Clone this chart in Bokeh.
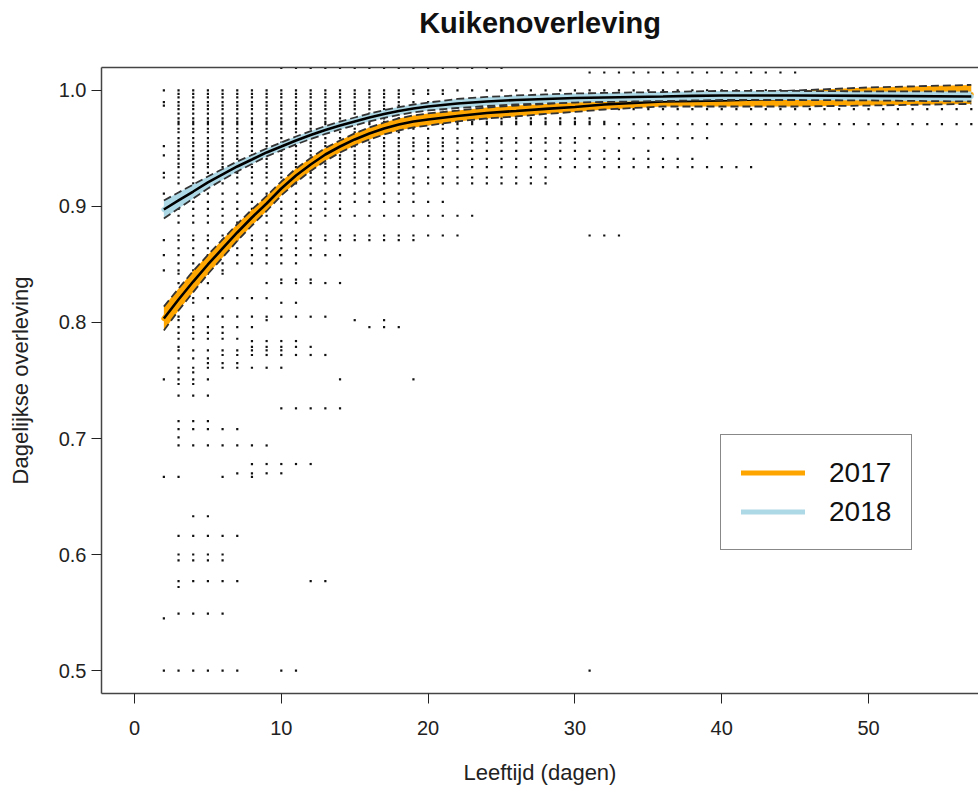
from bokeh.plotting import figure
from bokeh.models import (Range1d, LinearAxis, FixedTicker, Legend, LegendItem,
                          PrintfTickFormatter)
from bokeh.embed import file_html
from bokeh.resources import INLINE

# ---------------- data ----------------
days = [2, 3, 4, 5, 6, 7, 8, 9, 10, 11, 12, 13, 14, 15, 16, 17, 18, 19, 20,
        22, 24, 26, 28, 30, 32, 34, 36, 38, 40, 45, 50, 57]

fit_2017 = [0.8034, 0.8198, 0.8353, 0.8500, 0.8638, 0.8776, 0.8905, 0.9026, 0.9155,
            0.9267, 0.9362, 0.9448, 0.9517, 0.9578, 0.9629, 0.9672, 0.9707, 0.9733,
            0.9750, 0.9780, 0.9806, 0.9823, 0.9841, 0.9858, 0.9879, 0.9892, 0.9905,
            0.9909, 0.9914, 0.9931, 0.9948, 0.9966]
lo_2017 = [0.7931, 0.8103, 0.8262, 0.8418, 0.8560, 0.8703, 0.8836, 0.8961, 0.9095,
           0.9207, 0.9306, 0.9392, 0.9465, 0.9526, 0.9577, 0.9620, 0.9655, 0.9681,
           0.9698, 0.9733, 0.9759, 0.9776, 0.9798, 0.9815, 0.9836, 0.9849, 0.9862,
           0.9862, 0.9862, 0.9862, 0.9870, 0.9884]
hi_2017 = [0.8137, 0.8293, 0.8444, 0.8582, 0.8716, 0.8849, 0.8974, 0.9091, 0.9215,
           0.9327, 0.9418, 0.9504, 0.9569, 0.9630, 0.9681, 0.9724, 0.9759, 0.9785,
           0.9802, 0.9827, 0.9853, 0.9870, 0.9884, 0.9901, 0.9922, 0.9935, 0.9948,
           0.9956, 0.9966, 1.0000, 1.0026, 1.0048]

fit_2018 = [0.8974, 0.9052, 0.9129, 0.9207, 0.9276, 0.9345, 0.9405, 0.9466, 0.9517,
            0.9569, 0.9616, 0.9659, 0.9698, 0.9733, 0.9767, 0.9797, 0.9823, 0.9845,
            0.9862, 0.9888, 0.9905, 0.9918, 0.9927, 0.9935, 0.9940, 0.9944, 0.9948,
            0.9953, 0.9957, 0.9957, 0.9953, 0.9948]
lo_2018 = [0.8896, 0.8983, 0.9069, 0.9155, 0.9229, 0.9302, 0.9366, 0.9432, 0.9483,
           0.9535, 0.9582, 0.9625, 0.9664, 0.9699, 0.9733, 0.9763, 0.9789, 0.9811,
           0.9828, 0.9849, 0.9866, 0.9879, 0.9888, 0.9896, 0.9901, 0.9905, 0.9909,
           0.9914, 0.9918, 0.9918, 0.9914, 0.9905]
hi_2018 = [0.9052, 0.9121, 0.9189, 0.9259, 0.9323, 0.9388, 0.9444, 0.9500, 0.9551,
           0.9603, 0.9650, 0.9693, 0.9732, 0.9767, 0.9801, 0.9831, 0.9857, 0.9879,
           0.9896, 0.9927, 0.9944, 0.9957, 0.9966, 0.9974, 0.9979, 0.9983, 0.9987,
           0.9992, 0.9996, 0.9996, 0.9992, 0.9991]

# observed daily survival per brood: (survival value, [(first day, last day), ...])
obs_rows = [
    (1.0195, [(10, 25)]),
    (1.0155, [(31, 45)]),
    (1.000, [(2, 44)]),
    (0.997, [(3, 21)]),
    (0.994, [(3, 18)]),
    (0.990, [(2, 20)]),
    (0.987, [(2, 20)]),
    (0.984, [(3, 21), (33, 57)]),
    (0.980, [(3, 16)]),
    (0.976, [(3, 31)]),
    (0.973, [(3, 32)]),
    (0.971, [(3, 57)]),
    (0.967, [(3, 22)]),
    (0.964, [(3, 18)]),
    (0.959, [(3, 39)]),
    (0.955, [(3, 30)]),
    (0.952, [(2, 21)]),
    (0.948, [(3, 33), (35, 35)]),
    (0.944, [(2, 18)]),
    (0.941, [(3, 38)]),
    (0.937, [(3, 18)]),
    (0.934, [(3, 42)]),
    (0.929, [(2, 18)]),
    (0.925, [(2, 28)]),
    (0.920, [(3, 28)]),
    (0.911, [(2, 19)]),
    (0.904, [(3, 21)]),
    (0.898, [(3, 14)]),
    (0.892, [(3, 23)]),
    (0.886, [(3, 12)]),
    (0.875, [(3, 22), (31, 33)]),
    (0.871, [(2, 19)]),
    (0.864, [(3, 12)]),
    (0.858, [(2, 14)]),
    (0.851, [(3, 11)]),
    (0.845, [(2, 4), (6, 6)]),
    (0.842, [(3, 3), (5, 6)]),
    (0.837, [(10, 12)]),
    (0.834, [(3, 3), (5, 5), (9, 14)]),
    (0.821, [(3, 9)]),
    (0.817, [(4, 4), (10, 11)]),
    (0.805, [(3, 13)]),
    (0.802, [(3, 4), (9, 9), (15, 15), (17, 17)]),
    (0.796, [(3, 8), (16, 18)]),
    (0.791, [(3, 6)]),
    (0.786, [(3, 7)]),
    (0.784, [(8, 11)]),
    (0.779, [(3, 3), (8, 12)]),
    (0.776, [(3, 10)]),
    (0.772, [(6, 13)]),
    (0.769, [(3, 5)]),
    (0.765, [(5, 7)]),
    (0.761, [(3, 10)]),
    (0.757, [(3, 4)]),
    (0.751, [(2, 5), (14, 14), (19, 19)]),
    (0.747, [(3, 4)]),
    (0.737, [(3, 5)]),
    (0.726, [(10, 14)]),
    (0.715, [(3, 5)]),
    (0.708, [(3, 7)]),
    (0.701, [(3, 3)]),
    (0.694, [(3, 9)]),
    (0.678, [(8, 12)]),
    (0.670, [(7, 10)]),
    (0.667, [(2, 3), (6, 6), (8, 8)]),
    (0.633, [(4, 5)]),
    (0.616, [(3, 7)]),
    (0.600, [(3, 6)]),
    (0.595, [(3, 6)]),
    (0.577, [(3, 7), (12, 13)]),
    (0.572, [(3, 3)]),
    (0.549, [(3, 6)]),
    (0.545, [(2, 2)]),
    (0.500, [(2, 7), (10, 11), (31, 31)]),
]

x_ticks = [0, 10, 20, 30, 40, 50]
y_ticks = [0.5, 0.6, 0.7, 0.8, 0.9, 1.0]
labels = ["2017", "2018"]
colors = ["#FFA500", "#ADD8E6"]
title_text = "Kuikenoverleving"
x_title = "Leeftijd (dagen)"
y_title = "Dagelijkse overleving"

obs_x, obs_y = [], []
for v, spans in obs_rows:
    for a, b in spans:
        for d in range(a, b + 1):
            obs_x.append(d)
            obs_y.append(v)

# ---------------- figure ----------------
FONT = "Liberation Sans"
p = figure(width=978, height=787,
           x_range=Range1d(-2.248, 57.49), y_range=Range1d(0.4802, 1.0198),
           output_backend="svg", toolbar_location=None,
           min_border_left=101, min_border_right=0, min_border_top=67, min_border_bottom=94)
p.xgrid.visible = False
p.ygrid.visible = False
p.outline_line_color = None
p.background_fill_color = "white"

for ax in (p.xaxis[0], p.yaxis[0]):
    ax.axis_line_color = "#444444"
    ax.axis_line_width = 1.5
    ax.major_tick_line_color = "#222222"
    ax.major_tick_line_width = 1
    ax.major_tick_out = 10
    ax.major_tick_in = 0
    ax.minor_tick_line_color = None
    ax.major_label_text_font = FONT
    ax.major_label_text_font_size = "20px"
    ax.major_label_text_color = "#222222"
    ax.axis_label_text_font = FONT
    ax.axis_label_text_font_size = "22px"
    ax.axis_label_text_font_style = "normal"
    ax.axis_label_text_color = "#222222"
p.xaxis[0].ticker = FixedTicker(ticks=x_ticks)
p.xaxis[0].formatter = PrintfTickFormatter(format="%d")
p.xaxis[0].major_label_standoff = 17
p.xaxis[0].axis_label = x_title
p.xaxis[0].axis_label_standoff = 22
p.yaxis[0].ticker = FixedTicker(ticks=y_ticks)
p.yaxis[0].formatter = PrintfTickFormatter(format="%.1f")
p.yaxis[0].major_label_standoff = 5
p.yaxis[0].major_label_orientation = "horizontal"
p.yaxis[0].axis_label = y_title
p.yaxis[0].axis_label_standoff = 23

# top border line, carrying the chart title as its label
top_axis = LinearAxis(ticker=FixedTicker(ticks=[]), axis_line_color="#444444",
                      axis_line_width=1.5, major_tick_line_color=None, major_tick_out=0,
                      major_tick_in=0, minor_tick_line_color=None, major_label_standoff=0,
                      major_label_text_font_size="0px",
                      axis_label=title_text, axis_label_standoff=29,
                      axis_label_text_font=FONT, axis_label_text_font_size="29px",
                      axis_label_text_font_style="bold", axis_label_text_color="#111111")
p.add_layout(top_axis, "above")

# observations
p.scatter(obs_x, obs_y, marker="square", size=2.2, fill_color="#111111", line_color=None)

# fitted curves with confidence bands
leg_renderers = []
for fit, lo, hi, col in ((fit_2017, lo_2017, hi_2017, colors[0]),
                         (fit_2018, lo_2018, hi_2018, colors[1])):
    p.varea(x=days, y1=lo, y2=hi, fill_color=col, fill_alpha=1.0)
    # coloured line along the fit (inside its band); also serves as legend glyph
    leg_renderers.append(p.line(days, fit, line_color=col, line_width=5, line_cap="round"))
    p.line(days, lo, line_color="#333333", line_width=1.8, line_dash="8 4")
    p.line(days, hi, line_color="#333333", line_width=1.8, line_dash="8 4")
    p.line(days, fit, line_color="black", line_width=2.6)

legend = Legend(items=[LegendItem(label=lab, renderers=[r]) for lab, r in zip(labels, leg_renderers)],
                location=(619, 143), orientation="vertical",
                label_text_font=FONT, label_text_font_size="28px", label_text_color="#111111",
                glyph_width=64, glyph_height=35, label_height=35, label_standoff=24,
                spacing=4, padding=20, margin=0,
                border_line_color="#111111", border_line_width=1,
                background_fill_color="white", background_fill_alpha=1.0)
p.add_layout(legend, "center")

open("out.html", "w").write(file_html(p, INLINE))
